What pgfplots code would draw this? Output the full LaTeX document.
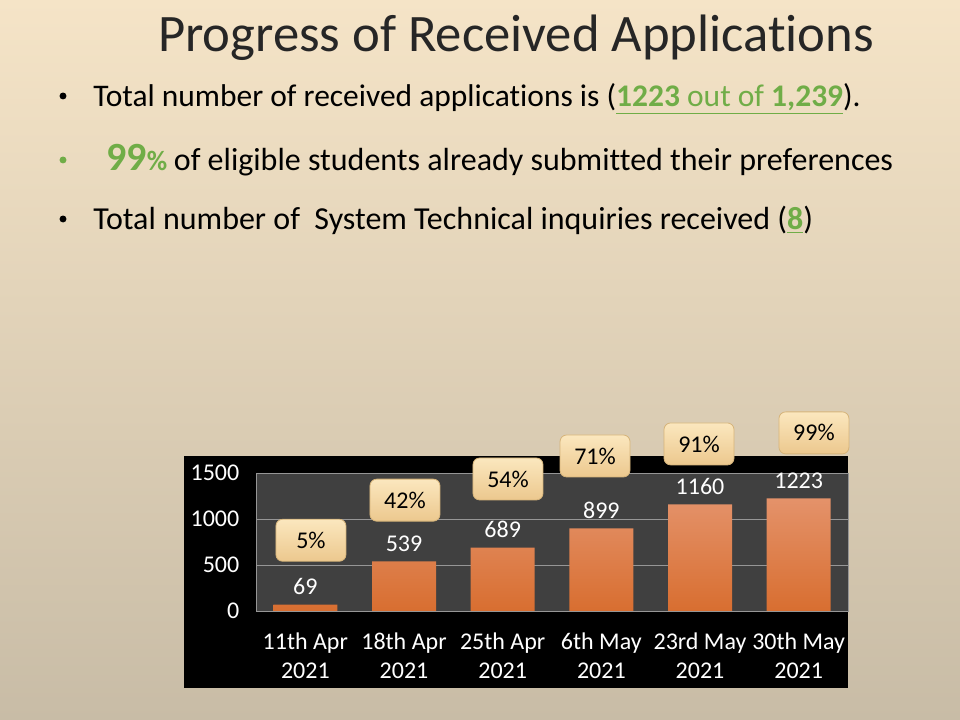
\documentclass[border=0pt]{standalone}
\usepackage{fontspec}
\setmainfont{Carlito}[Ligatures=NoCommon]
\usepackage{pgfplots}
\pgfplotsset{compat=1.18}
\definecolor{bgtop}{RGB}{245,228,199}
\definecolor{bgbot}{RGB}{200,188,166}
\definecolor{grn}{RGB}{112,173,71}
\definecolor{plotgray}{RGB}{64,64,64}
\definecolor{gridgray}{RGB}{150,150,150}
\definecolor{bartop}{RGB}{228,146,106}
\definecolor{barbot}{RGB}{216,110,48}
\definecolor{boxtop}{RGB}{251,231,190}
\definecolor{boxbot}{RGB}{236,200,142}
\definecolor{boxborder}{RGB}{214,180,122}
\begin{document}
\begin{tikzpicture}
\shade[top color=bgtop, bottom color=bgbot] (0,0) rectangle (720pt,540pt);
\begin{scope}[x=0.75pt,y=-0.75pt,shift={(0,540pt)}]
\fill[black] (184,456) rectangle (848,688);
\node[text=black!85] at (516,38) {\fontsize{39.5}{46}\selectfont Progress of Received Applications};
\fill[black] (63,96) circle[radius=2.6pt];
\fill[grn] (63,160) circle[radius=2.6pt];
\fill[black] (63,219) circle[radius=2.6pt];
\node[anchor=base west, inner sep=0pt] at (93,107) {\fontsize{23.6}{28}\selectfont Total number of received applications is ({\color{grn}\underline{\textbf{1223} out of \textbf{1,239}}}).};
\node[anchor=base west, inner sep=0pt] at (106,171) {{\color{grn}\bfseries\fontsize{30}{34}\selectfont 99{\fontsize{21}{24}\selectfont\%}}\hspace{5pt}\fontsize{24}{28}\selectfont of eligible students already submitted their preferences};
\node[anchor=base west, inner sep=0pt] at (93,230) {\fontsize{24}{28}\selectfont Total number of \ System Technical inquiries received ({\color{grn}\underline{\textbf{8}}})};
\end{scope}
\begin{axis}[
  scale only axis, width=444pt, height=103.5pt,
  at={(192pt,81.75pt)}, anchor=south west,
  xmin=-0.5, xmax=5.5, ymin=0, ymax=1500,
  ytick={0,500,1000,1500},
  xtick={0,1,2,3,4,5},
  xticklabels={{11th Apr\\2021},{18th Apr\\2021},{25th Apr\\2021},{6th May\\2021},{23rd May\\2021},{30th May\\2021}},
  xticklabel style={align=center, text=white, font=\fontsize{18}{21.75}\selectfont, yshift=-13pt},
  yticklabel style={text=white, font=\fontsize{18}{21.75}\selectfont, xshift=-9pt},
  /pgf/number format/assume math mode=true,
  /pgf/number format/1000 sep={},
  scaled y ticks=false,
  axis background/.style={fill=plotgray},
  ymajorgrids, grid style={gridgray, line width=0.6pt},
  axis line style={gridgray, line width=0.6pt},
  major tick length=0pt,
  clip=false,
]
\addplot[ybar, bar width=48pt, draw=none, top color=bartop, bottom color=barbot]
  coordinates {(0,69) (1,539) (2,689) (3,899) (4,1160) (5,1223)};
\addplot[draw=none, mark=none, nodes near coords,
  every node near coord/.style={anchor=center, yshift=13.5pt, text=white, font=\fontsize{18}{21.75}\selectfont, /pgf/number format/1000 sep={}}]
  coordinates {(0,69) (1,539) (2,689) (3,899) (4,1160) (5,1223)};
\addplot[draw=none, mark=none, nodes near coords, point meta=explicit symbolic,
  every node near coord/.style={anchor=center, rounded corners=5pt, top color=boxtop, bottom color=boxbot, draw=boxborder, line width=0.6pt, minimum width=52.5pt, minimum height=31.5pt, text=black, font=\fontsize{18}{21.75}\selectfont}]
  coordinates {(0.057,769) [5\%] (1.01,1205) [42\%] (2.054,1435) [54\%] (2.936,1685) [71\%] (3.99,1816) [91\%] (5.155,1936) [99\%]};
\end{axis}
\pgfresetboundingbox
\useasboundingbox (0,0) rectangle (720pt,540pt);
\end{tikzpicture}
\end{document}
